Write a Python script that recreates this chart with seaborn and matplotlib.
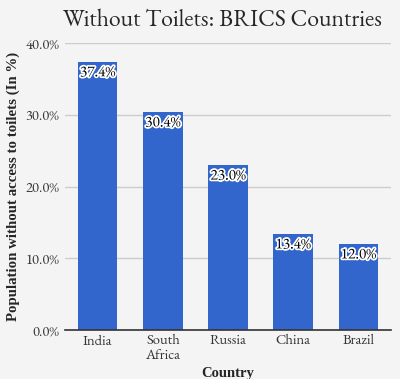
import matplotlib
matplotlib.use("Agg")
import matplotlib.pyplot as plt
import matplotlib.patheffects as pe
import seaborn as sns
import pandas as pd

countries = ["India", "South\nAfrica", "Russia", "China", "Brazil"]
without_toilets = [37.4, 30.4, 23.0, 13.4, 12.0]
y_ticks = [0, 10, 20, 30, 40]

df = pd.DataFrame({"Country": countries, "Pct": without_toilets})

sns.set_style("whitegrid")
plt.rcParams["font.family"] = ["EB Garamond", "Liberation Serif", "DejaVu Serif"]
bold_font = ["Liberation Serif", "DejaVu Serif"]

fig = plt.figure(figsize=(4.0, 3.79), dpi=100, facecolor="#f4f4f4")
ax = fig.add_axes([65 / 400, 1 - 330 / 379, 326 / 400, 287 / 379])
ax.set_facecolor("#f4f4f4")

sns.barplot(data=df, x="Country", y="Pct", color="#3366cc", saturation=1,
            width=0.61, linewidth=0, edgecolor="none", ax=ax)

ax.set_ylim(0, 40)
ax.set_xlim(-0.5, len(countries) - 0.5)
ax.set_yticks(y_ticks)
ax.set_yticklabels([f"{t:.1f}%" for t in y_ticks], fontsize=10.5, color="#333333")
ax.tick_params(axis="x", labelsize=10.5, colors="#333333", length=0, pad=3)
ax.tick_params(axis="y", length=0, pad=4)
for lbl in ax.get_xticklabels():
    lbl.set_linespacing(1.0)
ax.grid(axis="y", color="#cccccc", linewidth=1)
ax.grid(axis="x", visible=False)
for s in ["top", "right", "left"]:
    ax.spines[s].set_visible(False)
ax.spines["bottom"].set_color("#333333")
ax.spines["bottom"].set_linewidth(1.2)

for i, v in enumerate(without_toilets):
    ax.text(i, v - 0.6, f"{v:.1f}%", ha="center", va="top", fontsize=11,
            color="black",
            path_effects=[pe.withStroke(linewidth=2.5, foreground="white")])

ax.set_xlabel("Country", fontsize=10.5, fontweight="bold", family=bold_font,
              labelpad=3)
ax.set_ylabel("Population without access to toilets (In %)", fontsize=10.7,
              fontweight="bold", family=bold_font, labelpad=4)
fig.text(0.555, 0.945, "Without Toilets: BRICS Countries", ha="center",
         va="center", fontsize=17)

fig.savefig("out.png", dpi=100, facecolor=fig.get_facecolor())
